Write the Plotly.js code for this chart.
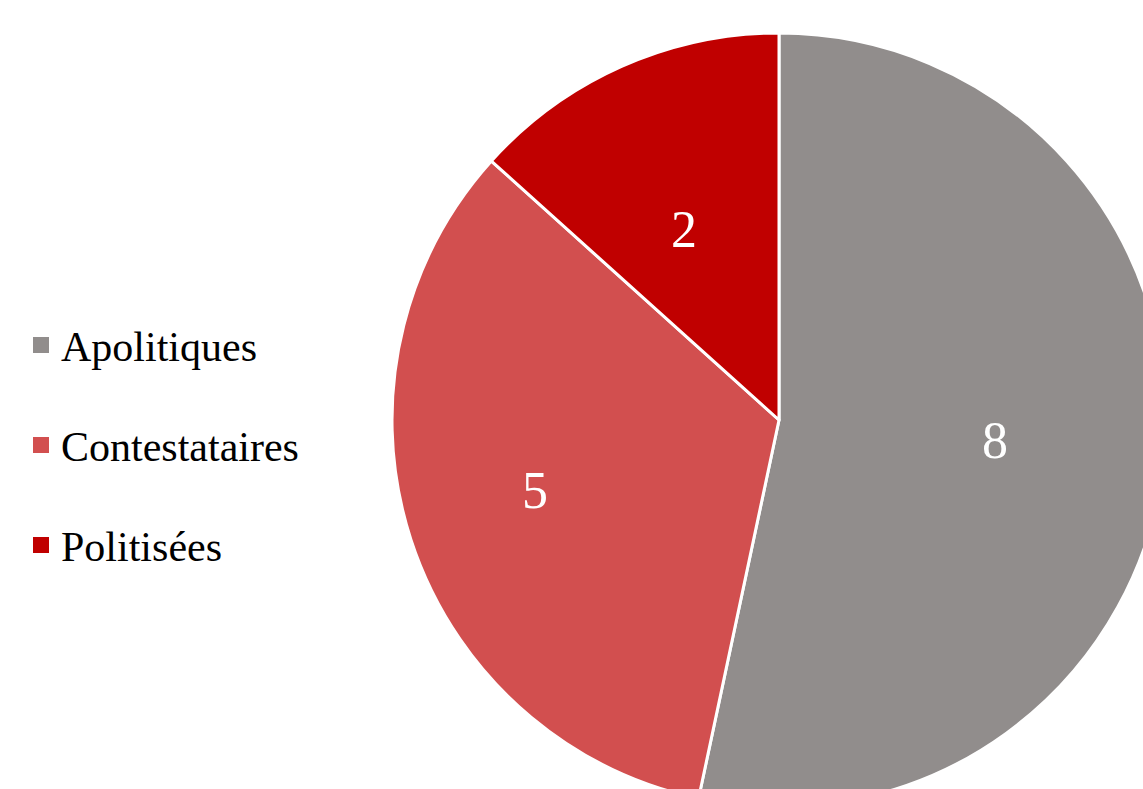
<!DOCTYPE html>
<html>
<head>
<meta charset="utf-8">
<script src="https://cdn.plot.ly/plotly-3.0.1.min.js"></script>
<style>
html, body { margin: 0; padding: 0; overflow: hidden; background: #fff; }
#chart { width: 1200px; height: 900px; }
</style>
</head>
<body>
<div id="chart"></div>
<script>
var categories = ["Apolitiques", "Contestataires", "Politisées"];
var values = [8, 5, 2];
var colors = ["#918D8C", "#D24F4F", "#C00000"];

var FONT = "Liberation Serif";
var W = 1200, H = 900;
var cx = 779, cy = 420, R = 387;
// value-label placement (style): radius fraction and angular nudge (degrees)
var labelRadius = [0.559, 0.654, 0.556];
var labelAngleShift = [-1.2, 2.3, -2.3];

var trace = {
  type: "pie",
  labels: categories,
  values: values,
  sort: false,
  direction: "clockwise",
  rotation: 0,
  marker: { colors: colors, line: { color: "#ffffff", width: 3 } },
  textinfo: "none",
  hoverinfo: "label+value",
  domain: {
    x: [(cx - R) / W, (cx + R) / W],
    y: [(H - cy - R) / H, (H - cy + R) / H]
  },
  showlegend: false
};

var annotations = [];
var shapes = [];

var total = values.reduce(function (a, b) { return a + b; }, 0);
var cum = 0;
values.forEach(function (v, i) {
  var mid = ((cum + v / 2) / total * 360 + labelAngleShift[i]) * Math.PI / 180;
  cum += v;
  var r = R * labelRadius[i];
  var px = cx + r * Math.sin(mid);
  var py = cy - r * Math.cos(mid);
  annotations.push({
    xref: "paper", yref: "paper",
    x: px / W, y: 1 - (py + 2) / H,
    xanchor: "center", yanchor: "middle",
    text: String(v), showarrow: false,
    font: { family: FONT, size: 52, color: "#ffffff" }
  });
});

var legY0 = 345, legStep = 100;
categories.forEach(function (c, i) {
  var yc = legY0 + i * legStep;
  shapes.push({
    type: "rect", xref: "paper", yref: "paper",
    x0: 33 / W, x1: 49 / W,
    y0: 1 - (yc + 8) / H, y1: 1 - (yc - 8) / H,
    fillcolor: colors[i], line: { width: 0 }
  });
  annotations.push({
    xref: "paper", yref: "paper",
    x: 59 / W, y: 1 - (yc + 2) / H,
    xanchor: "left", yanchor: "middle",
    text: c, showarrow: false,
    font: { family: FONT, size: 42, color: "#000000" }
  });
});

var layout = {
  width: W, height: H,
  margin: { l: 0, r: 0, t: 0, b: 0 },
  paper_bgcolor: "#ffffff",
  showlegend: false,
  shapes: shapes,
  annotations: annotations
};

Plotly.newPlot("chart", [trace], layout, { displayModeBar: false });
</script>
</body>
</html>
